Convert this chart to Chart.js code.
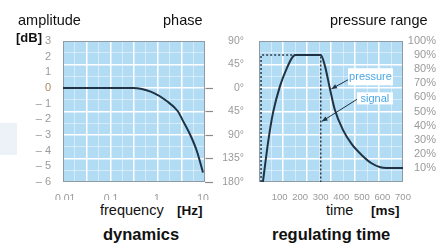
<!DOCTYPE html>
<html>
<head>
<meta charset="utf-8">
<script src="https://cdn.jsdelivr.net/npm/chart.js@4.4.1/dist/chart.umd.min.js"></script>
<style>
html, body { margin: 0; padding: 0; background: #fff; }
body { width: 448px; height: 244px; position: relative; overflow: hidden; font-family: "Liberation Sans", Arial, sans-serif; }
.t { position: absolute; white-space: nowrap; line-height: 1; color: #111; }
.b { font-weight: bold; }
#wrapA { position: absolute; left: 0; top: 0; width: 244px; height: 200px; }
#wrapB { position: absolute; left: 244px; top: 0; width: 204px; height: 200px; }
</style>
</head>
<body>
<div style="position:absolute;left:0;top:123px;width:17px;height:32px;background:#edf2f9"></div>
<div id="wrapA"><canvas id="dyn"></canvas></div>
<div id="wrapB"><canvas id="reg"></canvas></div>

<div class="t" style="left:18px;top:12.5px;font-size:14.5px">amplitude</div>
<div class="t" style="left:163px;top:12.5px;font-size:14.5px">phase</div>
<div class="t b" style="left:16px;top:31px;font-size:13px">[dB]</div>
<div class="t" style="left:330px;top:12.5px;font-size:14.5px">pressure range</div>
<div class="t" style="left:100px;top:203px;font-size:14.5px">frequency</div>
<div class="t b" style="left:177px;top:203.5px;font-size:13.5px">[Hz]</div>
<div class="t" style="left:326px;top:203px;font-size:14.5px">time</div>
<div class="t b" style="left:371px;top:203.5px;font-size:13.5px">[ms]</div>
<div class="t b" style="left:103px;top:226px;font-size:16.5px">dynamics</div>
<div class="t b" style="left:272px;top:226px;font-size:16.5px">regulating time</div>

<script>
// dynamics: amplitude over frequency
const freq = [0.009, 0.05, 0.3, 0.75, 1.65, 2.86, 3.67, 5.2, 7.4, 10];
const amplitude = [0, 0, 0, -0.25, -0.85, -1.5, -2.1, -2.95, -4.05, -5.4];
const ampTicks = [3, 2, 1, 0, -1, -2, -3, -4, -5, -6];
const phaseTicks = [90, 45, 0, -45, -90, -135, -180];
const freqTicks = [0.01, 0.1, 1, 10];
const freqLabels = ['0,01', '0.1', '1', '10'];

// regulating time: pressure and signal over time
const time = [19, 44, 68, 102, 136, 165, 180, 300, 321, 345, 369, 408, 450, 500, 545, 590, 620, 700];
const pressure = [0, 28, 49, 68, 81, 89, 90, 90, 82, 66, 51, 37, 27, 19, 13.5, 10.5, 10, 10];
const signalTime = [10, 10, 300, 300];
const signal = [0, 90, 90, 0];
const timeTicks = [100, 200, 300, 400, 500, 600, 700];
const rangeTicks = [10, 20, 30, 40, 50, 60, 70, 80, 90, 100];

Chart.defaults.font.family = "'Liberation Sans', Arial, sans-serif";
const grey = '#9a9a9a';
const curve = '#1f3344';

function gridAxis(pos) {
    return {
        type: 'linear', position: pos, min: 0, max: 6,
        ticks: { display: false, stepSize: 0.5 },
        border: { display: false },
        grid: {
            drawTicks: false,
            color: c => c.tick && c.tick.value % 1 === 0 ? '#ffffff' : 'rgba(255,255,255,0.45)',
            lineWidth: c => c.tick && c.tick.value % 1 === 0 ? 1.5 : 1
        },
        afterFit: s => { if (pos === 'left' || pos === 'right') s.width = 0; else s.height = 0; }
    };
}

const plotBg = {
    id: 'plotBg',
    beforeDraw(chart) {
        const { ctx, chartArea: a } = chart;
        ctx.save();
        ctx.fillStyle = '#b2dbf4';
        ctx.fillRect(a.left, a.top, a.width, a.height);
        ctx.restore();
    },
    beforeDatasetsDraw(chart) {
        const { ctx, chartArea: a } = chart;
        ctx.save();
        ctx.strokeStyle = '#8f9aa3';
        ctx.lineWidth = 1;
        ctx.strokeRect(a.left + 0.5, a.top + 0.5, a.width - 1, a.height - 1);
        ctx.restore();
    }
};

function pts(xs, ys) { return xs.map((v, i) => ({ x: v, y: ys[i] })); }
function setTicks(list) { return s => { s.ticks = list.map(v => ({ value: v })); }; }

new Chart(document.getElementById('dyn'), {
    type: 'line',
    data: {
        datasets: [{
            data: pts(freq, amplitude),
            borderColor: curve, borderWidth: 2, pointRadius: 0,
            cubicInterpolationMode: 'monotone', xAxisID: 'x', yAxisID: 'y'
        }]
    },
    options: {
        responsive: true, maintainAspectRatio: false, animation: false,
        layout: { padding: { top: 41, left: 0, right: 0, bottom: 0 } },
        plugins: { legend: { display: false }, tooltip: { enabled: false } },
        scales: {
            x: {
                type: 'logarithmic', min: 0.009, max: 11.05,
                afterBuildTicks: setTicks(freqTicks),
                ticks: { callback: (v, i) => freqLabels[i], color: grey, font: { size: 10.5 }, padding: 3, maxRotation: 0, autoSkip: false },
                grid: { display: false }, border: { display: false },
                afterFit: s => { s.height = 18; }
            },
            y: {
                min: -6, max: 3,
                afterBuildTicks: setTicks(ampTicks),
                ticks: {
                    callback: v => v < 0 ? '\u2013 ' + (-v) : String(v),
                    color: c => c.tick.value === 0 ? '#a98a66' : grey,
                    font: { size: 11 }, padding: 4, autoSkip: false
                },
                grid: { display: false }, border: { display: false },
                afterFit: s => { s.width = 63; }
            },
            phase: {
                position: 'right', min: -180, max: 90,
                afterBuildTicks: setTicks(phaseTicks),
                ticks: { crossAlign: 'far', callback: v => Math.abs(v) + '\u00b0', color: grey, font: { size: 10.5 }, autoSkip: false },
                grid: {
                    drawOnChartArea: false, tickLength: 8, color: 'rgba(0,0,0,0)',
                    tickColor: c => c.tick.value <= 0 ? '#8a8a8a' : 'rgba(0,0,0,0)', tickWidth: 1.2
                },
                border: { display: false },
                afterFit: s => { s.width = 39; }
            },
            gx: gridAxis('top'),
            gy: gridAxis('left')
        }
    },
    plugins: [plotBg]
});

const callouts = {
    id: 'callouts',
    afterDatasetsDraw(chart) {
        const { ctx, scales: { x, y } } = chart;
        const boxes = [
            { t0: 433, t1: 651, p0: 80.7, p1: 68.6, text: 'pressure', from: [433, 72.5], to: [352, 66] },
            { t0: 476, t1: 651, p0: 63.6, p1: 55, text: 'signal', from: [476, 58.6], to: [306, 43] }
        ];
        ctx.save();
        boxes.forEach(b => {
            const x0 = x.getPixelForValue(b.t0), x1 = x.getPixelForValue(b.t1);
            const y0 = y.getPixelForValue(b.p0), y1 = y.getPixelForValue(b.p1);
            ctx.fillStyle = '#ffffff';
            ctx.fillRect(x0, y0, x1 - x0, y1 - y0);
            ctx.fillStyle = '#4aa8e6';
            ctx.font = "11px 'Liberation Sans', Arial, sans-serif";
            ctx.textAlign = 'center';
            ctx.textBaseline = 'middle';
            ctx.fillText(b.text, (x0 + x1) / 2, (y0 + y1) / 2 + 0.5);
            const fx = x.getPixelForValue(b.from[0]), fy = y.getPixelForValue(b.from[1]);
            const tx = x.getPixelForValue(b.to[0]), ty = y.getPixelForValue(b.to[1]);
            const ang = Math.atan2(ty - fy, tx - fx);
            ctx.strokeStyle = curve;
            ctx.lineWidth = 1;
            ctx.beginPath();
            ctx.moveTo(fx, fy);
            ctx.lineTo(tx, ty);
            ctx.stroke();
            ctx.fillStyle = curve;
            ctx.beginPath();
            ctx.moveTo(tx, ty);
            ctx.lineTo(tx - 6 * Math.cos(ang - 0.4), ty - 6 * Math.sin(ang - 0.4));
            ctx.lineTo(tx - 6 * Math.cos(ang + 0.4), ty - 6 * Math.sin(ang + 0.4));
            ctx.closePath();
            ctx.fill();
        });
        ctx.restore();
    }
};

new Chart(document.getElementById('reg'), {
    type: 'line',
    data: {
        datasets: [
            {
                data: pts(time, pressure),
                borderColor: curve, borderWidth: 2, pointRadius: 0,
                cubicInterpolationMode: 'monotone', xAxisID: 'x', yAxisID: 'y'
            },
            {
                data: pts(signalTime, signal),
                borderColor: '#2a3a48', borderWidth: 1.5, borderDash: [2, 2],
                pointRadius: 0, tension: 0, xAxisID: 'x', yAxisID: 'y'
            }
        ]
    },
    options: {
        responsive: true, maintainAspectRatio: false, animation: false,
        layout: { padding: { top: 41, left: 15, right: 12, bottom: 0 } },
        plugins: { legend: { display: false }, tooltip: { enabled: false } },
        scales: {
            x: {
                type: 'linear', min: 0, max: 700,
                afterBuildTicks: setTicks(timeTicks),
                ticks: { color: grey, font: { size: 9.5 }, padding: 2, maxRotation: 0, autoSkip: false },
                grid: { display: false }, border: { display: false },
                afterFit: s => { s.height = 18; }
            },
            y: {
                position: 'right', min: 0, max: 100,
                afterBuildTicks: setTicks(rangeTicks),
                ticks: { crossAlign: 'far', callback: v => v + '%', color: grey, font: { size: 11 }, autoSkip: false },
                grid: { display: false }, border: { display: false },
                afterFit: s => { s.width = 33; }
            },
            gx: gridAxis('top'),
            gy: gridAxis('left')
        }
    },
    plugins: [plotBg, callouts]
});
</script>
</body>
</html>
